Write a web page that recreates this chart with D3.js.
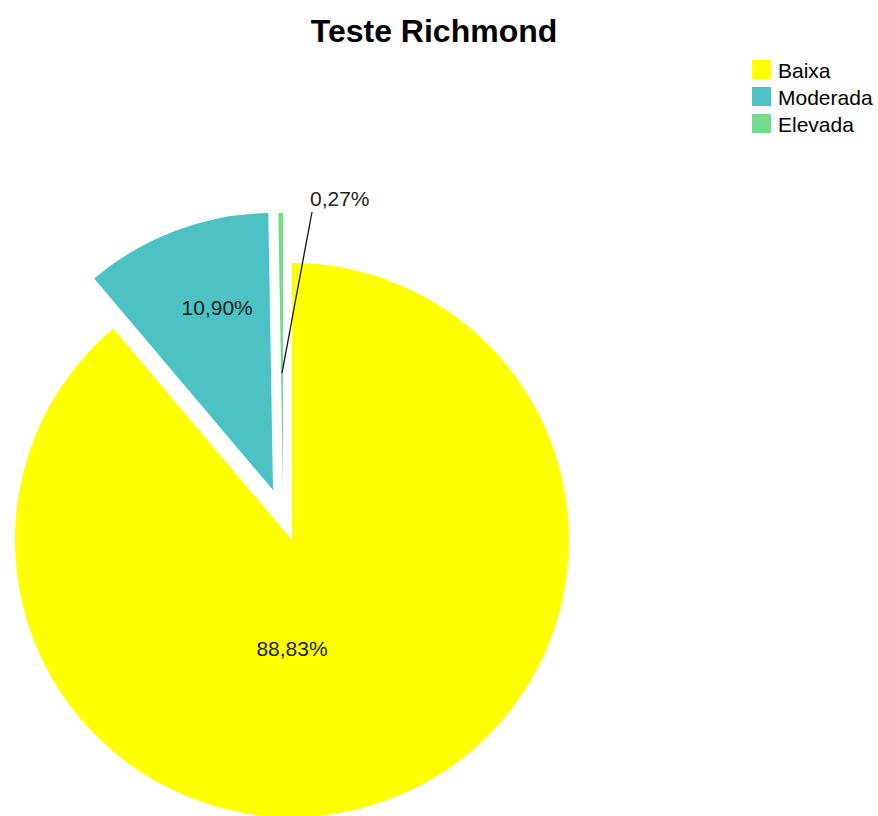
<!DOCTYPE html>
<html>
<head>
<meta charset="utf-8">
<script src="https://cdn.jsdelivr.net/npm/d3@7/dist/d3.min.js"></script>
<style>
  html, body { margin: 0; padding: 0; background: #fff; }
  svg { display: block; font-family: "Liberation Sans", Arial, sans-serif; }
</style>
</head>
<body>
<svg id="chart" width="878" height="816"></svg>
<script>
// Risk categories and their shares (%)
const categories = ["Baixa", "Moderada", "Elevada"];
const values = [88.83, 10.90, 0.27];
const labels = ["88,83%", "10,90%", "0,27%"];
const colors = ["#ffff00", "#4cc2c5", "#72dc8b"];

const svg = d3.select("#chart");

const cx = 292, cy = 540, R = 277;

// Exploded slices are pulled out from the centre
const explode = { Moderada: [-19, -50], Elevada: [-9, -50] };

const pie = d3.pie().sort(null).value(d => d.value).startAngle(0).endAngle(2 * Math.PI);
const data = categories.map((c, i) => ({ name: c, value: values[i], label: labels[i], color: colors[i] }));
const arcs = pie(data);
const arc = d3.arc().innerRadius(0).outerRadius(R);

const g = svg.append("g").attr("transform", `translate(${cx},${cy})`);

const slices = g.selectAll("g.slice").data(arcs).enter().append("g")
  .attr("class", "slice")
  .attr("transform", d => {
    const o = explode[d.data.name] || [0, 0];
    return `translate(${o[0]},${o[1]})`;
  });

slices.append("path")
  .attr("d", arc)
  .attr("fill", d => d.data.color);

// Value labels
const fs = 21;
// Baixa: inside the slice, below the centre
g.append("text")
  .attr("x", 0).attr("y", 116)
  .attr("text-anchor", "middle")
  .attr("font-size", fs).attr("fill", "#222")
  .text(arcs[0].data.label);

// Moderada: inside the exploded slice
{
  const a = arcs[1];
  const o = explode[a.data.name];
  const ang = (a.startAngle + a.endAngle) / 2 + 3.5 * Math.PI / 180;
  const rr = 190;
  const x = o[0] + Math.sin(ang) * rr;
  const y = o[1] - Math.cos(ang) * rr;
  g.append("text")
    .attr("x", x).attr("y", y + 7)
    .attr("text-anchor", "middle")
    .attr("font-size", fs).attr("fill", "#222")
    .text(a.data.label);
}

// Elevada: outside with a leader line
{
  const a = arcs[2];
  const o = explode[a.data.name];
  const mid = (a.startAngle + a.endAngle) / 2;
  const r0 = 117;
  const x0 = o[0] + Math.sin(mid) * r0;
  const y0 = o[1] - Math.cos(mid) * r0;
  const x1 = 20, y1 = -328;
  g.append("line")
    .attr("x1", x0).attr("y1", y0).attr("x2", x1).attr("y2", y1)
    .attr("stroke", "#111").attr("stroke-width", 1.3);
  g.append("text")
    .attr("x", 18).attr("y", -334)
    .attr("text-anchor", "start")
    .attr("font-size", fs).attr("fill", "#222")
    .text(a.data.label);
}

// Title
svg.append("text")
  .attr("x", 434).attr("y", 42)
  .attr("text-anchor", "middle")
  .attr("font-size", 32).attr("font-weight", "bold").attr("fill", "#000")
  .text("Teste Richmond");

// Legend
const legend = svg.append("g").attr("transform", "translate(752,60)");
const rowH = 27;
const items = legend.selectAll("g").data(data).enter().append("g")
  .attr("transform", (d, i) => `translate(0,${i * rowH})`);
items.append("rect")
  .attr("width", 19).attr("height", 19)
  .attr("fill", d => d.color);
items.append("text")
  .attr("x", 26).attr("y", 18)
  .attr("font-size", fs).attr("fill", "#000")
  .text(d => d.name);
</script>
</body>
</html>
